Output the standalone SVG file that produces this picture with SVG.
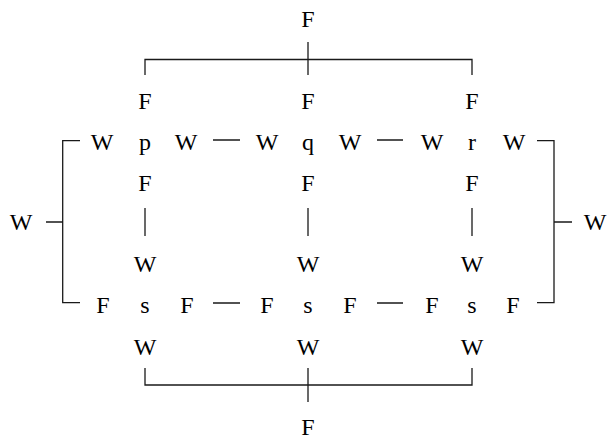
<svg xmlns="http://www.w3.org/2000/svg" width="607" height="439" viewBox="0 0 607 439">
<style>
text{font-family:"Liberation Serif","Times New Roman",serif;font-size:24px;fill:#000;text-anchor:middle}
.c{fill:none;stroke:#1a1a1a;stroke-width:1.3}
</style>
<rect width="607" height="439" fill="#fff"/>
<g id="connectors" class="c">
<path d="M145,75V59.5H472V75M308,42V75"/>
<path d="M145,368V385H472V368M308,368V402"/>
<path d="M80,140.7H62.7V302.7H80M46,222H62.7"/>
<path d="M537,140.7H554V302.7H537M554,222H572"/>
<path d="M213,140H240M377,140H403"/>
<path d="M213,303H240M377,303H403"/>
<path d="M145,208V236M308,208V236M472,208V236"/>
</g>
<g id="top"><text x="308" y="27">F</text></g>
<g id="bottom"><text x="308" y="435">F</text></g>
<g id="left"><text x="21" y="230">W</text></g>
<g id="right"><text x="595" y="230">W</text></g>
<g id="p">
<text x="145" y="109">F</text>
<text x="102" y="150">W</text><text x="145" y="150">p</text><text x="186" y="150">W</text>
<text x="145" y="191">F</text>
</g>
<g id="q">
<text x="308" y="109">F</text>
<text x="267" y="150">W</text><text x="308" y="150">q</text><text x="350" y="150">W</text>
<text x="308" y="191">F</text>
</g>
<g id="r">
<text x="472" y="109">F</text>
<text x="432" y="150">W</text><text x="472" y="150">r</text><text x="514" y="150">W</text>
<text x="472" y="191">F</text>
</g>
<g id="s1">
<text x="145" y="272">W</text>
<text x="103" y="313">F</text><text x="145" y="313">s</text><text x="187" y="313">F</text>
<text x="145" y="355">W</text>
</g>
<g id="s2">
<text x="308" y="272">W</text>
<text x="267" y="313">F</text><text x="308" y="313">s</text><text x="350" y="313">F</text>
<text x="308" y="355">W</text>
</g>
<g id="s3">
<text x="472" y="272">W</text>
<text x="432" y="313">F</text><text x="472" y="313">s</text><text x="513" y="313">F</text>
<text x="472" y="355">W</text>
</g>
</svg>
